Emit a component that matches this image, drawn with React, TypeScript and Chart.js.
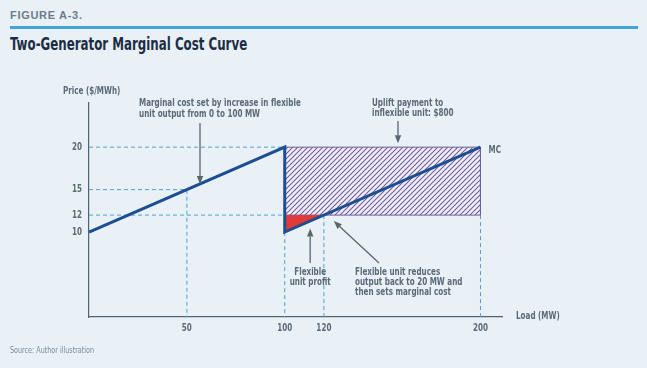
import React, { useEffect, useRef } from "react";
import { Chart, registerables } from "chart.js";

Chart.register(...registerables);

// ---- data ----
const xTickValues = [50, 100, 120, 200];
const yTickValues = [10, 12, 15, 20];
const mcLoad = [0, 100, 100, 200];
const mcPrice = [10, 20, 10, 20];
const upliftLoad = [100, 200];
const upliftTop = [20, 20];
const upliftFloor = 12;
const profitLoad = [100, 120];
const profitPrice = [10, 12];
const guide15Load = [0, 50, 50];
const guide15Price = [15, 15, 0];

const FF = '"Liberation Sans Narrow", "DejaVu Sans Condensed", "Arial Narrow", sans-serif';
const TEXT = "#5b6a78";
const ARROW = "#5a6570";
const GUIDE = "#4aa3d4";
const PURPLE = "#6c5c9e";
const SQUEEZE = 0.8;

const pts = (xs: number[], ys: number[]) => xs.map((x, i) => ({ x, y: ys[i] }));

function makePattern(): CanvasPattern | string {
  const c = document.createElement("canvas");
  const s = 5;
  c.width = s;
  c.height = s;
  const g = c.getContext("2d");
  if (!g) return "#eee8f6";
  g.fillStyle = "#f2eef9";
  g.fillRect(0, 0, s, s);
  g.strokeStyle = PURPLE;
  g.lineWidth = 1.05;
  g.beginPath();
  g.moveTo(-1, s + 1);
  g.lineTo(s + 1, -1);
  g.moveTo(-1, 1);
  g.lineTo(1, -1);
  g.moveTo(s - 1, s + 1);
  g.lineTo(s + 1, s - 1);
  g.stroke();
  return g.createPattern(c, "repeat") || "#eee8f6";
}

function txt(ctx: CanvasRenderingContext2D, s: string, x: number, y: number) {
  const w = ctx.measureText(s).width;
  ctx.fillText(s, x, y, w * SQUEEZE);
}

function arrow(ctx: CanvasRenderingContext2D, x1: number, y1: number, x2: number, y2: number) {
  const ang = Math.atan2(y2 - y1, x2 - x1);
  const hl = 8;
  const hw = 3.2;
  const bx = x2 - hl * Math.cos(ang);
  const by = y2 - hl * Math.sin(ang);
  ctx.save();
  ctx.strokeStyle = ARROW;
  ctx.fillStyle = ARROW;
  ctx.lineWidth = 1.3;
  ctx.beginPath();
  ctx.moveTo(x1, y1);
  ctx.lineTo(bx, by);
  ctx.stroke();
  ctx.beginPath();
  ctx.moveTo(x2, y2);
  ctx.lineTo(bx + hw * Math.sin(ang), by - hw * Math.cos(ang));
  ctx.lineTo(bx - hw * Math.sin(ang), by + hw * Math.cos(ang));
  ctx.closePath();
  ctx.fill();
  ctx.restore();
}

const annotations = {
  id: "annotations",
  afterDraw(chart: any) {
    const ctx: CanvasRenderingContext2D = chart.ctx;
    const xs = chart.scales.x;
    const ys = chart.scales.y;
    const px = (v: number) => xs.getPixelForValue(v);
    const py = (v: number) => ys.getPixelForValue(v);
    ctx.save();
    ctx.fillStyle = TEXT;
    ctx.textBaseline = "middle";
    ctx.font = `bold 10px ${FF}`;

    // tick labels
    ctx.textAlign = "center";
    xTickValues.forEach((v) => txt(ctx, String(v), px(v), xs.top + 11));
    ctx.textAlign = "right";
    yTickValues.forEach((v) => txt(ctx, String(v), ys.right - 7, py(v)));

    ctx.textAlign = "left";
    txt(ctx, "Price ($/MWh)", 63, 91);
    txt(ctx, "Load (MW)", 516, 316);
    txt(ctx, "MC", px(200) + 8, py(20) + 3);

    txt(ctx, "Marginal cost set by increase in flexible", 139, 103);
    txt(ctx, "unit output from 0 to 100 MW", 139, 114);
    arrow(ctx, 200, 123, 200, py(15.9) + 2);

    txt(ctx, "Uplift payment to", 372, 103);
    txt(ctx, "inflexible unit: $800", 372, 113);
    arrow(ctx, 398, 121, 398, py(20) - 4);

    ctx.textAlign = "center";
    const pfx = px(113);
    txt(ctx, "Flexible", pfx, 272);
    txt(ctx, "unit profit", pfx, 282);
    arrow(ctx, pfx, 263, pfx, py(11) + 5);

    ctx.textAlign = "left";
    txt(ctx, "Flexible unit reduces", 355, 272);
    txt(ctx, "output back to 20 MW and", 355, 282);
    txt(ctx, "then sets marginal cost", 355, 292);
    arrow(ctx, 379, 263, px(122) + 6, py(12) + 6);
    ctx.restore();
  },
};

export default function App() {
  const ref = useRef<HTMLCanvasElement | null>(null);
  useEffect(() => {
    if (!ref.current) return;
    const pattern = makePattern();
    const guideStyle = {
      borderColor: GUIDE,
      borderWidth: 1,
      borderDash: [4, 3],
      pointRadius: 0,
      fill: false,
    };
    const upliftOutline = [
      { x: upliftLoad[0], y: upliftFloor },
      { x: upliftLoad[0], y: upliftTop[0] },
      { x: upliftLoad[1], y: upliftTop[1] },
      { x: upliftLoad[1], y: upliftFloor },
      { x: upliftLoad[0], y: upliftFloor },
    ];
    const chart = new Chart(ref.current, {
      type: "line",
      data: {
        datasets: [
          {
            data: pts(mcLoad, mcPrice),
            borderColor: "#1d4e8f",
            borderWidth: 3,
            pointRadius: 0,
            fill: false,
            borderJoinStyle: "miter",
          },
          {
            data: pts(profitLoad, profitPrice),
            borderColor: "rgba(0,0,0,0)",
            borderWidth: 0,
            pointRadius: 0,
            backgroundColor: "#e03a3a",
            fill: { value: upliftFloor },
          },
          {
            data: upliftOutline,
            borderColor: PURPLE,
            borderWidth: 1,
            pointRadius: 0,
            fill: false,
          },
          {
            data: pts(upliftLoad, upliftTop),
            borderColor: "rgba(0,0,0,0)",
            borderWidth: 0,
            pointRadius: 0,
            backgroundColor: pattern,
            fill: 4,
          },
          {
            data: upliftLoad.map((x) => ({ x, y: upliftFloor })),
            borderColor: "rgba(0,0,0,0)",
            borderWidth: 0,
            pointRadius: 0,
            fill: false,
          },
          { ...guideStyle, data: [{ x: 0, y: mcPrice[1] }, { x: mcLoad[1], y: mcPrice[1] }] },
          { ...guideStyle, data: pts(guide15Load, guide15Price) },
          { ...guideStyle, data: [{ x: 0, y: upliftFloor }, { x: upliftLoad[0], y: upliftFloor }] },
          { ...guideStyle, data: [{ x: mcLoad[2], y: mcPrice[2] }, { x: mcLoad[2], y: 0 }] },
          { ...guideStyle, data: [{ x: profitLoad[1], y: profitPrice[1] }, { x: profitLoad[1], y: 0 }] },
          { ...guideStyle, data: [{ x: upliftLoad[1], y: upliftFloor }, { x: upliftLoad[1], y: 0 }] },
        ],
      },
      options: {
        responsive: false,
        animation: false,
        devicePixelRatio: 1,
        events: [],
        layout: { padding: { left: 59, top: 103, right: 145, bottom: 31 } },
        plugins: { legend: { display: false }, tooltip: { enabled: false } },
        elements: { line: { tension: 0 } },
        scales: {
          x: {
            type: "linear",
            min: 0,
            max: 211,
            afterBuildTicks: (s: any) => {
              s.ticks = xTickValues.map((v) => ({ value: v }));
            },
            afterFit: (s: any) => {
              s.height = 20;
            },
            grid: { display: false, drawTicks: false },
            border: { display: true, color: "#56626d", width: 1.2 },
            ticks: { display: false },
          },
          y: {
            type: "linear",
            min: 0,
            max: 25.2,
            afterBuildTicks: (s: any) => {
              s.ticks = yTickValues.map((v) => ({ value: v }));
            },
            afterFit: (s: any) => {
              s.width = 30;
            },
            grid: { display: false, drawTicks: false },
            border: { display: true, color: "#56626d", width: 1.2 },
            ticks: { display: false },
          },
        },
      },
      plugins: [annotations],
    } as any);
    return () => chart.destroy();
  }, []);

  return (
    <div
      style={{
        position: "fixed",
        left: 0,
        top: 0,
        width: 647,
        height: 368,
        background: "#e9f0f6",
        overflow: "hidden",
      }}
    >
      <div
        style={{
          position: "absolute",
          left: 10,
          top: 9,
          fontFamily: '"Liberation Sans", Arial, sans-serif',
          fontWeight: "bold",
          fontSize: 11,
          letterSpacing: 0.7,
          color: "#6b7c8b",
          lineHeight: "12px",
        }}
      >
        FIGURE A-3.
      </div>
      <div
        style={{
          position: "absolute",
          left: 10,
          top: 26,
          width: 628,
          height: 3,
          background: "#45a5d8",
        }}
      />
      <div
        style={{
          position: "absolute",
          left: 10,
          top: 33,
          fontFamily: FF,
          fontWeight: "bold",
          fontSize: 18,
          color: "#1c2e45",
          lineHeight: "21px",
          whiteSpace: "nowrap",
          transform: "scaleX(0.73)",
          transformOrigin: "0 0",
        }}
      >
        Two-Generator Marginal Cost Curve
      </div>
      <canvas
        ref={ref}
        width={647}
        height={368}
        style={{ position: "absolute", left: 0, top: 0, width: 647, height: 368 }}
      />
      <div
        style={{
          position: "absolute",
          left: 10,
          top: 345,
          fontFamily: FF,
          fontSize: 8.5,
          color: "#7d8a96",
          lineHeight: "10px",
          whiteSpace: "nowrap",
          transform: "scaleX(0.84)",
          transformOrigin: "0 0",
        }}
      >
        Source: Author illustration
      </div>
    </div>
  );
}
